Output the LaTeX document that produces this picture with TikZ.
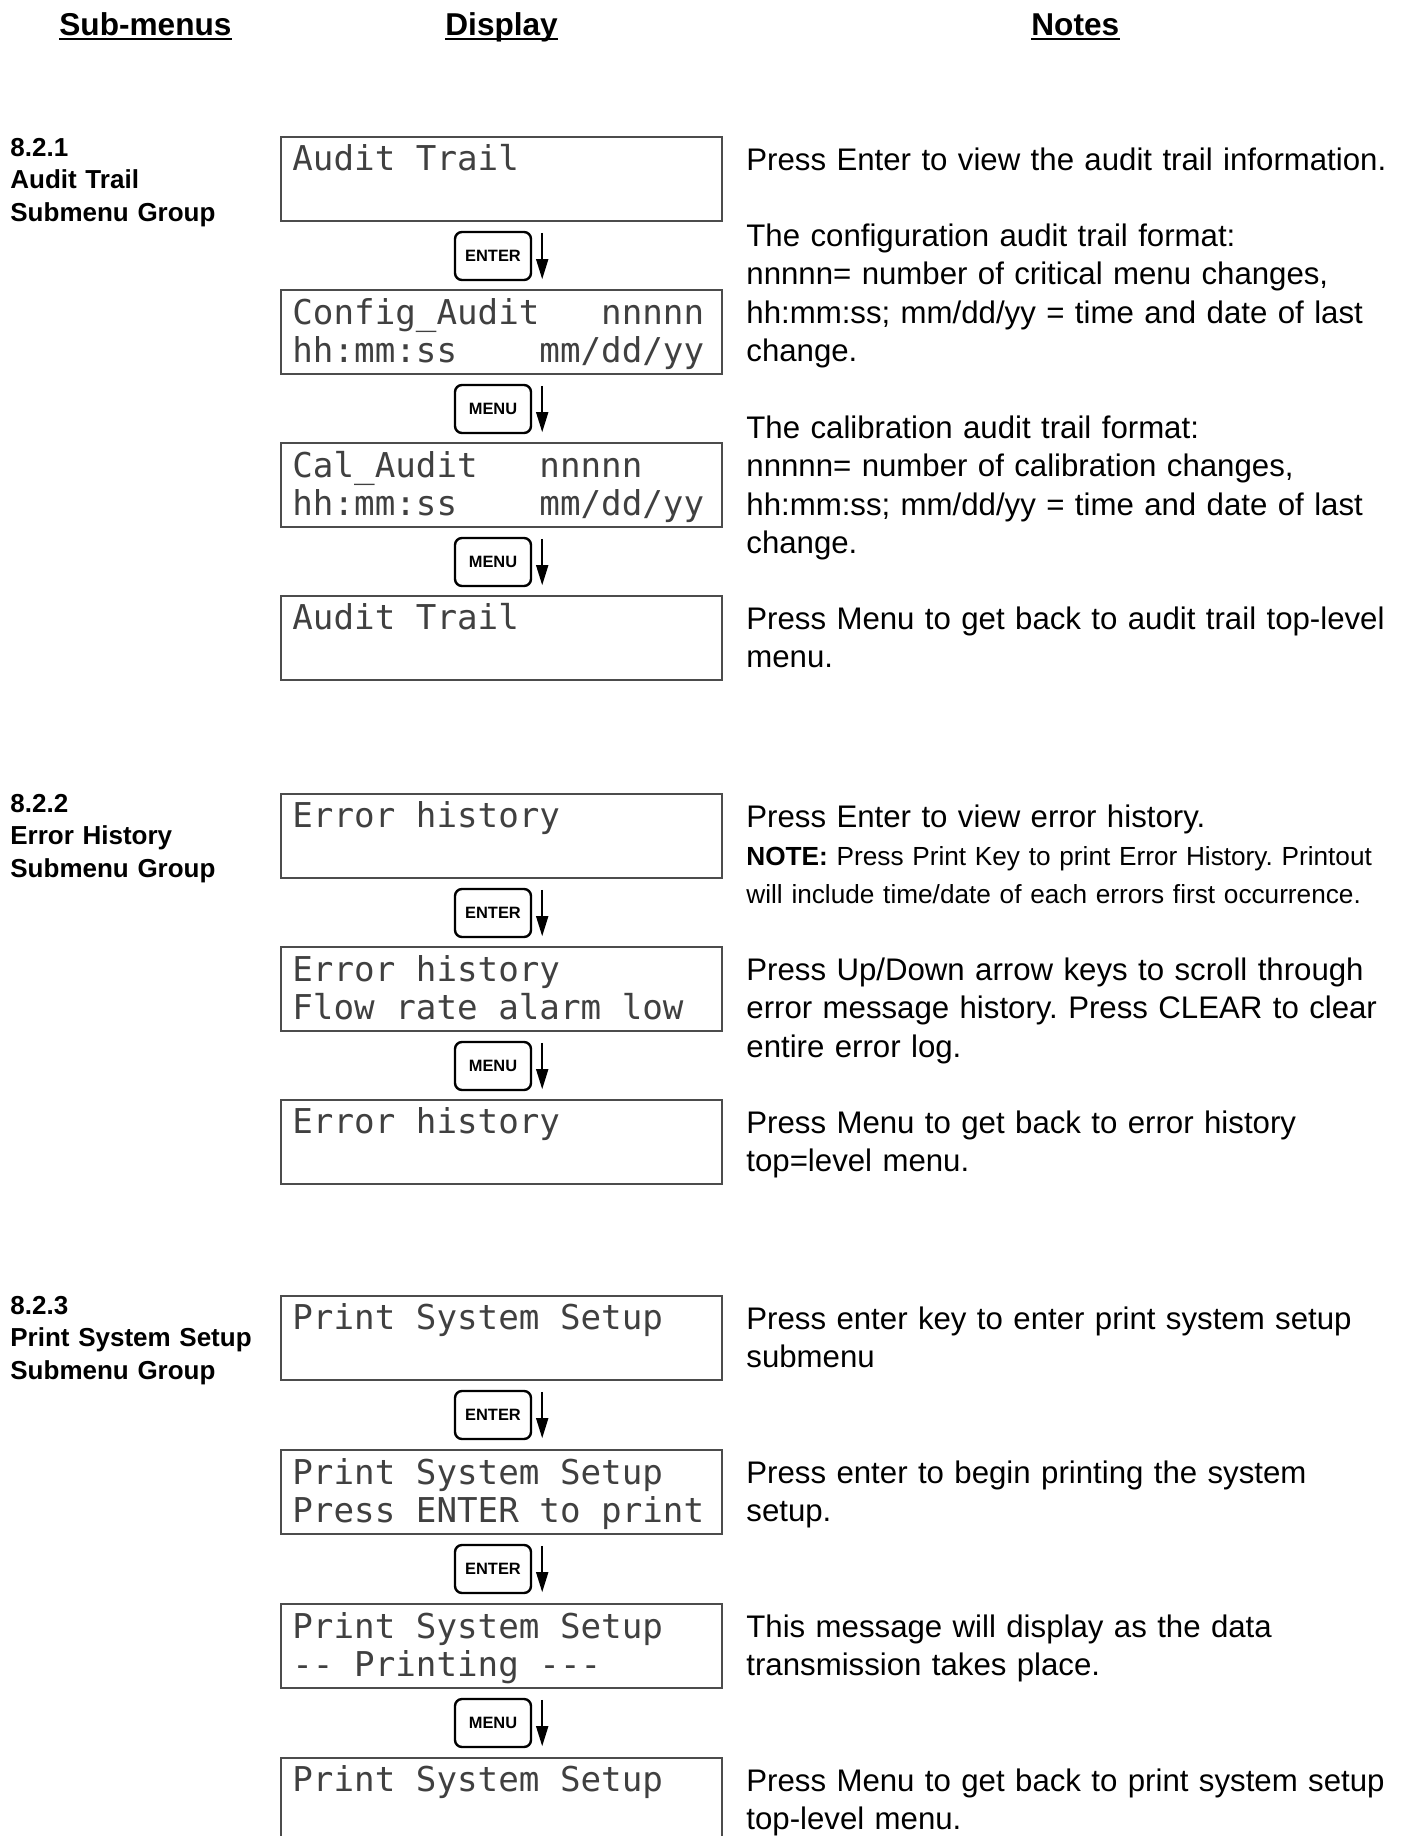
\documentclass[tikz,border=0pt]{standalone}
\usepackage{fontspec}
\setmainfont{Liberation Sans}
\setmonofont{DejaVu Sans Mono}
\usetikzlibrary{arrows.meta}
% one character cell of the display
\newcommand{\cell}{\phantom{n}}

\begin{document}
\frenchspacing
\begin{tikzpicture}[x=0.5pt,y=-0.5pt,
    lcd/.style={draw=black!70,line width=0.7pt,minimum width=220.5pt,minimum height=42pt,inner sep=0pt},
    lcdtxt/.style={anchor=base west,inner sep=0pt,align=left,text width=215pt,text=black!75,
      font=\ttfamily\fontsize{17.1}{19}\selectfont},
    key/.style={draw,line width=1.2pt,rounded corners=3.5pt,minimum width=38pt,minimum height=24pt,
      inner sep=0pt,font=\bfseries\fontsize{8.2}{10}\selectfont},
    flow/.style={-{Triangle[length=10pt,width=6pt]},line width=0.8pt},
    note/.style={anchor=base west,inner sep=0pt,align=left,text width=330pt,
      font=\fontsize{15.6}{19.3}\selectfont},
    smallnote/.style={note,font=\fontsize{13.1}{19.3}\selectfont},
    group/.style={anchor=base west,inner sep=0pt,align=left,text width=130pt,
      font=\bfseries\fontsize{13}{16.4}\selectfont},
    head/.style={anchor=base west,inner sep=0pt,font=\bfseries\fontsize{15.8}{19}\selectfont}]
	\useasboundingbox (0,0) rectangle (1403,1836);
	\clip (0,0) rectangle (1403,1836);

	% column heads
	\node[head] (hs) at (59,35) {Sub-menus};
	\node[head] (hd) at (445,35) {Display};
	\node[head] (hn) at (1031,35) {Notes};
	\draw[line width=1pt]
		([yshift=-2pt]hs.base west) -- ([yshift=-2pt]hs.base east)
		([yshift=-2pt]hd.base west) -- ([yshift=-2pt]hd.base east)
		([yshift=-2pt]hn.base west) -- ([yshift=-2pt]hn.base east)
	;

	% 8.2.1 audit trail
	\node[group] (ga) at (10,156) {8.2.1\\Audit Trail\\Submenu Group};

	\node[lcd] (a1) at (501.5,179) {};
	\node[lcdtxt] (a1t) at (292,170) {Audit\cell Trail};
	\node[key] (ak1) at (493,256) {ENTER};
	\node[lcd] (a2) at (501.5,332) {};
	\node[lcdtxt] (a2t) at (292,324) {Config\_Audit\cell\cell\cell nnnnn\\hh:mm:ss\cell\cell\cell\cell mm/dd/yy};
	\node[key] (ak2) at (493,409) {MENU};
	\node[lcd] (a3) at (501.5,485) {};
	\node[lcdtxt] (a3t) at (292,477) {Cal\_Audit\cell\cell\cell nnnnn\\hh:mm:ss\cell\cell\cell\cell mm/dd/yy};
	\node[key] (ak3) at (493,562) {MENU};
	\node[lcd] (a4) at (501.5,638) {};
	\node[lcdtxt] (a4t) at (292,629) {Audit\cell Trail};

	\draw[flow] ([xshift=5pt,yshift=-1pt]ak1.north east) -- ([xshift=5pt,yshift=1pt]ak1.south east);
	\draw[flow] ([xshift=5pt,yshift=-1pt]ak2.north east) -- ([xshift=5pt,yshift=1pt]ak2.south east);
	\draw[flow] ([xshift=5pt,yshift=-1pt]ak3.north east) -- ([xshift=5pt,yshift=1pt]ak3.south east);

	\node[note] (an1) at (746,170) {Press Enter to view the audit trail information.};
	\node[note] (an2) at (746,246) {The configuration audit trail format:\\nnnnn= number of critical menu changes,\\hh:mm:ss; mm/dd/yy = time and date of last\\change.};
	\node[note] (an3) at (746,438) {The calibration audit trail format:\\nnnnn= number of calibration changes,\\hh:mm:ss; mm/dd/yy = time and date of last\\change.};
	\node[note] (an4) at (746,629) {Press Menu to get back to audit trail top-level\\menu.};

	% 8.2.2 error history
	\node[group] (ge) at (10,812) {8.2.2\\Error History\\Submenu Group};

	\node[lcd] (e1) at (501.5,836) {};
	\node[lcdtxt] (e1t) at (292,827) {Error\cell history};
	\node[key] (ek1) at (493,913) {ENTER};
	\node[lcd] (e2) at (501.5,989) {};
	\node[lcdtxt] (e2t) at (292,981) {Error\cell history\\Flow\cell rate\cell alarm\cell low};
	\node[key] (ek2) at (493,1066) {MENU};
	\node[lcd] (e3) at (501.5,1142) {};
	\node[lcdtxt] (e3t) at (292,1133) {Error\cell history};

	\draw[flow] ([xshift=5pt,yshift=-1pt]ek1.north east) -- ([xshift=5pt,yshift=1pt]ek1.south east);
	\draw[flow] ([xshift=5pt,yshift=-1pt]ek2.north east) -- ([xshift=5pt,yshift=1pt]ek2.south east);

	\node[note] (en1) at (746,827) {Press Enter to view error history.};
	\node[smallnote] (en2) at (746,865) {\textbf{NOTE:} Press Print Key to print Error History. Printout\\will include time/date of each errors first occurrence.};
	\node[note] (en3) at (746,980) {Press Up/Down arrow keys to scroll through\\error message history. Press CLEAR to clear\\entire error log.};
	\node[note] (en4) at (746,1133) {Press Menu to get back to error history\\top=level menu.};

	% 8.2.3 print system setup
	\node[group] (gp) at (10,1314) {8.2.3\\Print System Setup\\Submenu Group};

	\node[lcd] (p1) at (501.5,1338) {};
	\node[lcdtxt] (p1t) at (292,1329) {Print\cell System\cell Setup};
	\node[key] (pk1) at (493,1415) {ENTER};
	\node[lcd] (p2) at (501.5,1492) {};
	\node[lcdtxt] (p2t) at (292,1484) {Print\cell System\cell Setup\\Press\cell ENTER\cell to\cell print};
	\node[key] (pk2) at (493,1569) {ENTER};
	\node[lcd] (p3) at (501.5,1646) {};
	\node[lcdtxt] (p3t) at (292,1638) {Print\cell System\cell Setup\\--\cell Printing\cell ---};
	\node[key] (pk3) at (493,1723) {MENU};
	\node[lcd] (p4) at (501.5,1800) {};
	\node[lcdtxt] (p4t) at (292,1791) {Print\cell System\cell Setup};

	\draw[flow] ([xshift=5pt,yshift=-1pt]pk1.north east) -- ([xshift=5pt,yshift=1pt]pk1.south east);
	\draw[flow] ([xshift=5pt,yshift=-1pt]pk2.north east) -- ([xshift=5pt,yshift=1pt]pk2.south east);
	\draw[flow] ([xshift=5pt,yshift=-1pt]pk3.north east) -- ([xshift=5pt,yshift=1pt]pk3.south east);

	\node[note] (pn1) at (746,1329) {Press enter key to enter print system setup\\submenu};
	\node[note] (pn2) at (746,1483) {Press enter to begin printing the system\\setup.};
	\node[note] (pn3) at (746,1637) {This message will display as the data\\transmission takes place.};
	\node[note] (pn4) at (746,1791) {Press Menu to get back to print system setup\\top-level menu.};
\end{tikzpicture}
\end{document}
